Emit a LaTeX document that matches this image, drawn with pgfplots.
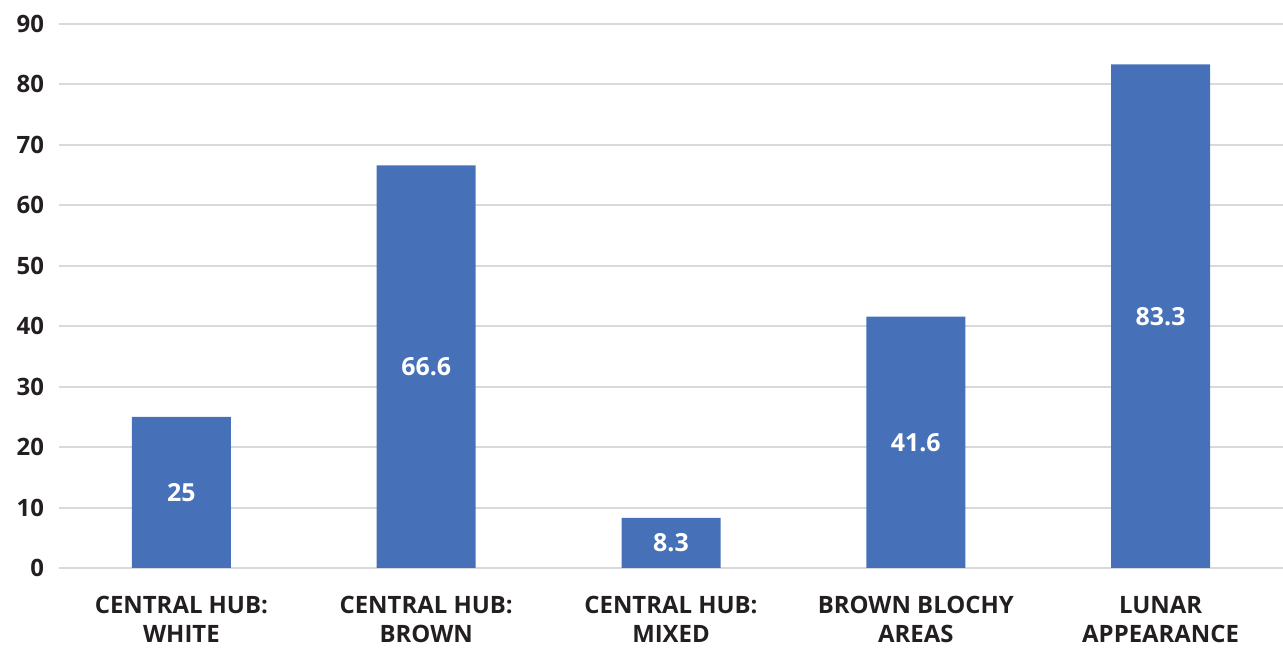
\documentclass[border=0pt]{standalone}
\usepackage{fontspec}
\setmainfont{Open Sans}
\usepackage{pgfplots}
\usepackage{pgfplotstable}
\pgfplotsset{compat=1.18}
\definecolor{barblue}{HTML}{4671B9}
\definecolor{gridgray}{HTML}{D9D9D9}
\definecolor{txt}{HTML}{231F20}

\pgfplotstableread{
x v lab
0 25   25
1 66.6 66.6
2 8.3  8.3
3 41.6 41.6
4 83.3 83.3
}\shares

\begin{document}
\begin{tikzpicture}
\begin{axis}[
  scale only axis,
  width=612bp, height=272bp,
  xmin=-0.5, xmax=4.5,
  ymin=0, ymax=90,
  ytick={0,10,...,90},
  xtick={0,1,2,3,4},
  xticklabels={{CENTRAL HUB:\\WHITE},{CENTRAL HUB:\\BROWN},{CENTRAL HUB:\\MIXED},{BROWN BLOCHY\\AREAS},{LUNAR\\APPEARANCE}},
  x tick label style={align=center, inner sep=0pt, font=\fontsize{12}{14.5}\selectfont\bfseries, text=txt, yshift=-14bp},
  y tick label style={font=\fontsize{12}{15}\selectfont\bfseries, text=txt, xshift=-4bp},
  /pgf/number format/assume math mode=true,
  axis line style={draw=none},
  major tick length=0pt,
  ymajorgrids,
  grid style={draw=gridgray, line width=1bp},
  clip=false,
]
\addplot[ybar, bar width=49.5bp, fill=barblue, draw=none] table[x=x, y=v] {\shares};
\addplot[draw=none, mark=none,
  nodes near coords,
  point meta=explicit symbolic,
  every node near coord/.style={anchor=center, text=white, font=\fontsize{12.5}{15}\selectfont\bfseries},
] table[x=x, y expr=\thisrow{v}/2, meta=lab] {\shares};
\end{axis}
\pgfresetboundingbox
\path (current axis.south west) ++(-29.5bp,-42bp) rectangle ([yshift=12bp]current axis.north east);
\end{tikzpicture}
\end{document}
